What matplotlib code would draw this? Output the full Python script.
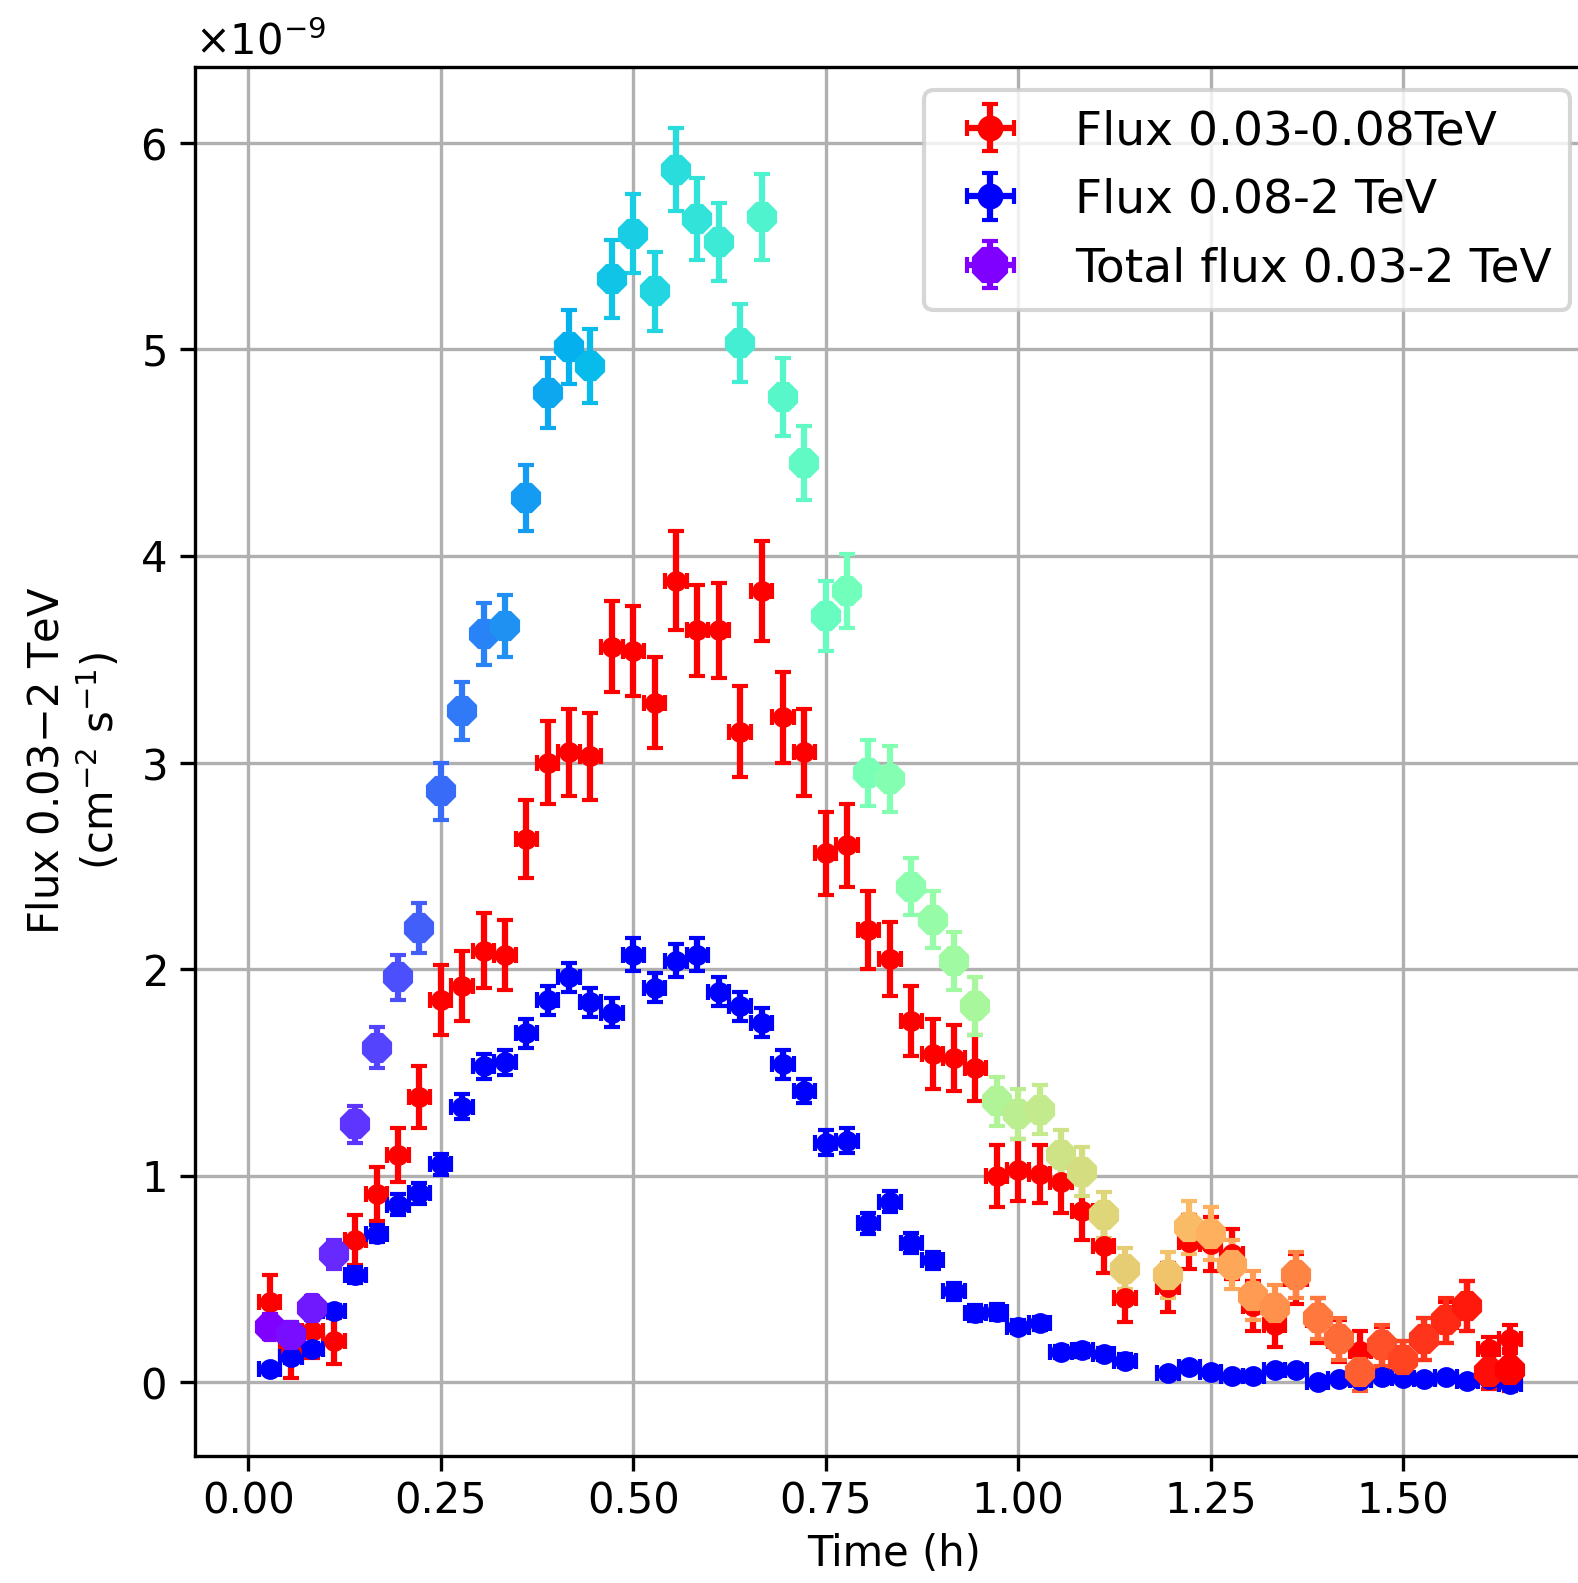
import numpy as np
import matplotlib
matplotlib.use("Agg")
import matplotlib.pyplot as plt
from matplotlib.ticker import ScalarFormatter

# Bin centres of the light curve (seconds since start), 100 s bins
time_s = [100, 200, 300, 400, 500, 600, 700, 800, 900, 1000,
          1100, 1200, 1300, 1400, 1500, 1600, 1700, 1800, 1900, 2000,
          2100, 2200, 2300, 2400, 2500, 2600, 2700, 2800, 2900, 3000,
          3100, 3200, 3300, 3400, 3500, 3600, 3700, 3800, 3900, 4000,
          4100, 4300, 4400, 4500, 4600, 4700, 4800, 4900, 5000,
          5100, 5200, 5300, 5400, 5500, 5600, 5700, 5800, 5900]
half_bin_s = 50

# Flux 0.03-0.08 TeV (1e-9 cm^-2 s^-1)
flux_low = [0.39, 0.15, 0.25, 0.20, 0.69, 0.91, 1.10, 1.38, 1.85, 1.92,
            2.09, 2.07, 2.63, 3.00, 3.05, 3.03, 3.56, 3.54, 3.29, 3.88,
            3.64, 3.64, 3.15, 3.83, 3.22, 3.05, 2.56, 2.60, 2.19, 2.05,
            1.75, 1.59, 1.57, 1.52, 1.00, 1.03, 1.01, 0.97, 0.83, 0.66,
            0.41, 0.46, 0.68, 0.67, 0.62, 0.37, 0.28, 0.50, 0.30,
            0.20, 0.15, 0.17, 0.11, 0.21, 0.29, 0.37, 0.16, 0.21]
err_low = [0.13, 0.13, 0.13, 0.11, 0.12, 0.13, 0.13, 0.15, 0.17, 0.17,
           0.18, 0.17, 0.19, 0.20, 0.21, 0.21, 0.22, 0.22, 0.22, 0.24,
           0.22, 0.23, 0.22, 0.24, 0.22, 0.21, 0.20, 0.20, 0.19, 0.18,
           0.17, 0.17, 0.16, 0.16, 0.15, 0.15, 0.14, 0.15, 0.14, 0.13,
           0.12, 0.12, 0.13, 0.13, 0.12, 0.12, 0.11, 0.12, 0.11,
           0.10, 0.10, 0.10, 0.09, 0.10, 0.10, 0.12, 0.06, 0.07]

# Flux 0.08-2 TeV (1e-9 cm^-2 s^-1)
flux_high = [0.065, 0.125, 0.16, 0.345, 0.52, 0.72, 0.86, 0.915, 1.055, 1.335,
             1.53, 1.55, 1.69, 1.85, 1.96, 1.84, 1.79, 2.07, 1.91, 2.04,
             2.07, 1.89, 1.82, 1.74, 1.54, 1.41, 1.16, 1.17, 0.77, 0.875,
             0.675, 0.59, 0.44, 0.335, 0.34, 0.27, 0.285, 0.148, 0.155, 0.137,
             0.105, 0.045, 0.075, 0.05, 0.03, 0.03, 0.06, 0.06, 0.0,
             0.015, 0.01, 0.025, 0.02, 0.015, 0.025, 0.005, 0.015, -0.01]
err_high = [0.02, 0.03, 0.03, 0.03, 0.04, 0.04, 0.05, 0.05, 0.05, 0.06,
            0.06, 0.06, 0.07, 0.07, 0.07, 0.07, 0.07, 0.08, 0.07, 0.08,
            0.08, 0.07, 0.07, 0.07, 0.07, 0.06, 0.06, 0.06, 0.05, 0.05,
            0.05, 0.04, 0.04, 0.04, 0.04, 0.03, 0.03, 0.03, 0.03, 0.03,
            0.03, 0.02, 0.02, 0.02, 0.02, 0.02, 0.02, 0.02, 0.02,
            0.02, 0.02, 0.02, 0.02, 0.02, 0.02, 0.02, 0.02, 0.02]

# Total flux 0.03-2 TeV (1e-9 cm^-2 s^-1)
flux_tot = [0.27, 0.23, 0.36, 0.62, 1.25, 1.62, 1.96, 2.20, 2.86, 3.25,
            3.62, 3.66, 4.28, 4.79, 5.01, 4.92, 5.34, 5.56, 5.28, 5.87,
            5.63, 5.52, 5.03, 5.64, 4.77, 4.45, 3.71, 3.83, 2.95, 2.92,
            2.40, 2.24, 2.04, 1.82, 1.36, 1.30, 1.32, 1.10, 1.02, 0.81,
            0.55, 0.52, 0.75, 0.72, 0.57, 0.42, 0.36, 0.52, 0.31,
            0.21, 0.05, 0.18, 0.11, 0.21, 0.30, 0.37, 0.05, 0.06]
err_tot = [0.06, 0.06, 0.06, 0.07, 0.09, 0.10, 0.11, 0.12, 0.14, 0.14,
           0.15, 0.15, 0.16, 0.17, 0.18, 0.18, 0.19, 0.19, 0.19, 0.20,
           0.20, 0.19, 0.19, 0.21, 0.19, 0.18, 0.17, 0.18, 0.16, 0.16,
           0.14, 0.14, 0.14, 0.14, 0.12, 0.12, 0.12, 0.12, 0.12, 0.11,
           0.10, 0.11, 0.13, 0.13, 0.12, 0.12, 0.11, 0.11, 0.10,
           0.10, 0.09, 0.10, 0.09, 0.10, 0.11, 0.12, 0.08, 0.10]

scale = 1e-9
t = np.array(time_s) / 3600.0
dt = half_bin_s / 3600.0

W, H, DPI = 1578, 1583, 300
fig = plt.figure(figsize=(W / DPI, H / DPI), dpi=DPI)
left, right, top, bottom = 195, 1594, 66.7, 1455.7
ax = fig.add_axes([left / W, 1 - bottom / H, (right - left) / W, (bottom - top) / H])

ax.errorbar(t, np.array(flux_low) * scale, xerr=dt, yerr=np.array(err_low) * scale,
            fmt='o', color='red', ms=4, capsize=2, label='Flux 0.03-0.08TeV')
ax.errorbar(t, np.array(flux_high) * scale, xerr=dt, yerr=np.array(err_high) * scale,
            fmt='o', color='blue', ms=4, capsize=2, label='Flux 0.08-2 TeV')

colors = plt.cm.rainbow(np.linspace(0, 1, len(t)))
for i in range(len(t)):
    ax.errorbar(t[i], flux_tot[i] * scale, xerr=dt, yerr=err_tot[i] * scale,
                fmt='8', color=colors[i], ms=6.5, capsize=2,
                label='Total flux 0.03-2 TeV' if i == 0 else None)

ax.set_xlim(-0.0692, 1.748)
ax.set_ylim(-0.355e-9, 6.368e-9)
fmt = ScalarFormatter(useMathText=True)
fmt.set_powerlimits((-3, 3))
ax.yaxis.set_major_formatter(fmt)
ax.tick_params(axis='x', pad=2.5)
ax.grid(True)
ax.set_xlabel('Time (h)', labelpad=2.5)
ax.set_ylabel('Flux 0.03$-$2 TeV\n(cm$^{-2}$ s$^{-1}$)')
ax.legend(loc='upper right', fontsize=11.3, markerscale=1.3)

fig.savefig('out.png', dpi=DPI)
